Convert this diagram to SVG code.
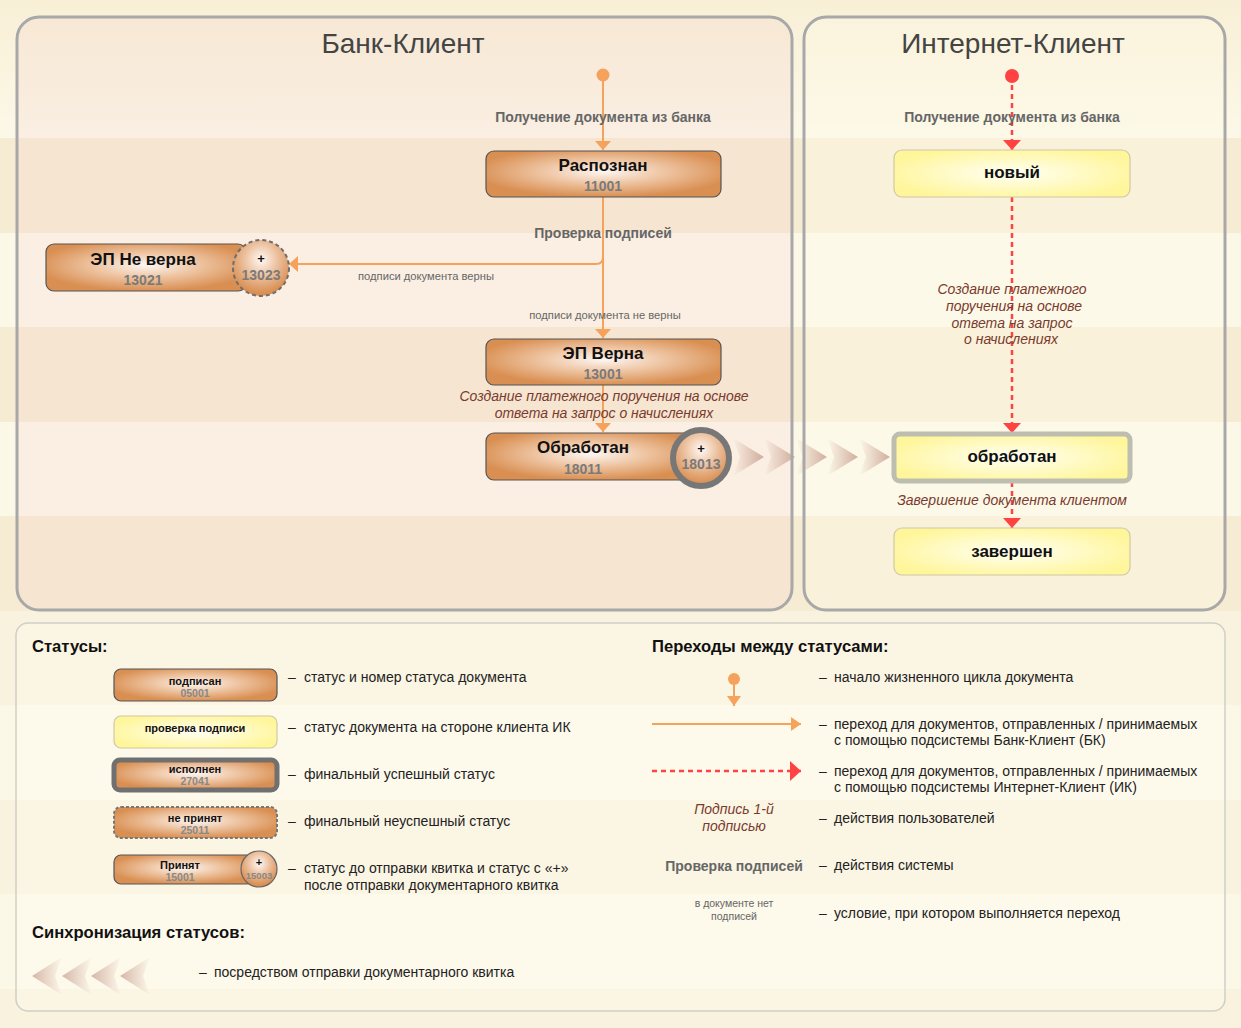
<svg xmlns="http://www.w3.org/2000/svg" width="1241" height="1028" viewBox="0 0 1241 1028">
<defs>
<style>
text{font-family:"Liberation Sans",Arial,sans-serif}
.big{font-size:28px;fill:#444;text-anchor:middle}
.ttl{font-size:17px;font-weight:bold;fill:#111;text-anchor:middle}
.num{font-size:14px;font-weight:bold;fill:#7a7a7a;text-anchor:middle}
.lbl{font-size:14px;font-weight:bold;fill:#666;text-anchor:middle}
.cond{font-size:11.2px;fill:#666;text-anchor:middle}
.act{font-size:14px;font-style:italic;fill:#7a3b2e;text-anchor:middle}
.desc{font-size:14px;fill:#222}
.hdr{font-size:16.6px;font-weight:bold;fill:#111}
.lt{font-size:11px;font-weight:bold;fill:#111;text-anchor:middle}
.ln{font-size:10.5px;font-weight:bold;fill:#888;text-anchor:middle}
.on{fill:url(#gO);stroke:#555;stroke-width:1.2}
.yn{fill:url(#gY);stroke:#cfc8a8;stroke-width:1.2}
.oc{fill:url(#gC)}
.bk{stroke:#f5a25c;stroke-width:2;fill:none}
.ik{stroke:#ff4343;stroke-width:2.5;fill:none;stroke-dasharray:5 4}
</style>
<radialGradient id="gO" cx="0.5" cy="0.45" r="0.55">
<stop offset="0" stop-color="#fdf6f2"/>
<stop offset="0.45" stop-color="#efc7a6"/>
<stop offset="1" stop-color="#d98f52"/>
</radialGradient>
<radialGradient id="gC" cx="0.5" cy="0.35" r="0.6">
<stop offset="0" stop-color="#fff8f4"/>
<stop offset="0.5" stop-color="#ecc09e"/>
<stop offset="1" stop-color="#d98f52"/>
</radialGradient>
<radialGradient id="gY" cx="0.5" cy="0.5" r="0.55">
<stop offset="0" stop-color="#fffff4"/>
<stop offset="1" stop-color="#fff69c"/>
</radialGradient>
<linearGradient id="gS" x1="0" y1="0" x2="1" y2="0">
<stop offset="0" stop-color="#c9a091" stop-opacity="0"/>
<stop offset="1" stop-color="#c9a091" stop-opacity="0.85"/>
</linearGradient>
<linearGradient id="gSL" x1="0" y1="0" x2="1" y2="0">
<stop offset="0" stop-color="#c9a091" stop-opacity="0.75"/>
<stop offset="1" stop-color="#c9a091" stop-opacity="0"/>
</linearGradient>
<linearGradient id="gTop" x1="0" y1="0" x2="0" y2="1">
<stop offset="0" stop-color="#f8efd6"/>
<stop offset="1" stop-color="#fcf8e8"/>
</linearGradient>
<marker id="aO" viewBox="0 0 9 16" markerWidth="9" markerHeight="16" refX="9" refY="8" orient="auto" markerUnits="userSpaceOnUse">
<path d="M0,0 L9,8 L0,16 z" fill="#f5a25c"/>
</marker>
<marker id="aR" viewBox="0 0 10 18" markerWidth="10" markerHeight="18" refX="10" refY="9" orient="auto" markerUnits="userSpaceOnUse">
<path d="M0,0 L10,9 L0,18 z" fill="#ff4343"/>
</marker>
<marker id="aOL" viewBox="0 0 10 14" markerWidth="10" markerHeight="14" refX="10" refY="7" orient="auto" markerUnits="userSpaceOnUse">
<path d="M0,0 L10,7 L0,14 z" fill="#f5a25c"/>
</marker>
<marker id="aRL" viewBox="0 0 11 20" markerWidth="11" markerHeight="20" refX="11" refY="10" orient="auto" markerUnits="userSpaceOnUse">
<path d="M0,0 L11,10 L0,20 z" fill="#ff4343"/>
</marker>
<path id="chev" d="M0,-19 L31,0 L0,19 L7,0 z"/>
<path id="chevL" d="M0,0 L30,-19 L23,0 L30,19 z"/>
</defs>

<!-- background bands -->
<rect x="0" y="0" width="1241" height="1028" fill="#fcf8e8"/>
<rect x="0" y="0" width="1241" height="138" fill="url(#gTop)"/>
<g fill="#f6ecd3">
<rect x="0" y="138" width="1241" height="95"/>
<rect x="0" y="327" width="1241" height="95"/>
<rect x="0" y="516" width="1241" height="95"/>
<rect x="0" y="611" width="1241" height="94" opacity="0.5"/>
<rect x="0" y="800" width="1241" height="94" opacity="0.5"/>
<rect x="0" y="989" width="1241" height="39" opacity="0.5"/>
</g>

<!-- panels -->
<g id="panel-bank">
<rect x="17" y="17" width="775" height="593" rx="22" fill="#f0c3c8" fill-opacity="0.16"/>
<text class="big" x="403" y="53">Банк-Клиент</text>
</g>
<g id="panel-ik">
<rect x="804" y="17" width="421" height="593" rx="22" fill="#fffbe8" fill-opacity="0.3"/>
<text class="big" x="1013" y="53">Интернет-Клиент</text>
</g>

<!-- sync chevrons -->
<g id="sync" fill="url(#gS)">
<use href="#chev" x="733" y="457"/>
<use href="#chev" x="764" y="457"/>
<use href="#chev" x="796" y="457"/>
<use href="#chev" x="827" y="457"/>
<use href="#chev" x="859" y="457"/>
</g>

<g fill="none" stroke="#a8a8a8" stroke-width="3">
<rect x="17" y="17" width="775" height="593" rx="22"/>
<rect x="804" y="17" width="421" height="593" rx="22"/>
</g>

<!-- connectors -->
<g id="connectors">
<circle cx="603" cy="75" r="6.5" fill="#f5a25c"/>
<path class="bk" d="M603,75 V150" marker-end="url(#aO)"/>
<path class="bk" d="M603,197 V338" marker-end="url(#aO)"/>
<path class="bk" d="M603,240 V257 Q603,264 596,264 H289" marker-end="url(#aO)"/>
<path class="bk" d="M603,385 V432" marker-end="url(#aO)"/>
<circle cx="1012" cy="76" r="7" fill="#ff4343"/>
<path class="ik" d="M1012,76 V150" marker-end="url(#aR)"/>
<path class="ik" d="M1012,197 V433" marker-end="url(#aR)"/>
<path class="ik" d="M1012,482 V528" marker-end="url(#aR)"/>
<text class="lbl" x="603" y="122">Получение документа из банка</text>
<text class="lbl" x="603" y="238">Проверка подписей</text>
<text class="cond" x="426" y="280">подписи документа верны</text>
<text class="cond" x="605" y="319">подписи документа не верны</text>
<text class="act" x="604" y="401">Создание платежного поручения на основе</text>
<text class="act" x="604" y="418">ответа на запрос о начислениях</text>
<text class="lbl" x="1012" y="122">Получение документа из банка</text>
<text class="act" x="1012" y="294">Создание платежного</text>
<text class="act" x="1014" y="311">поручения на основе</text>
<text class="act" x="1012" y="328">ответа на запрос</text>
<text class="act" x="1011" y="344">о начислениях</text>
<text class="act" x="1012" y="505">Завершение документа клиентом</text>
</g>

<!-- bank nodes -->
<g id="n-raspoznan">
<rect class="on" x="486" y="151" width="235" height="46" rx="8"/>
<text class="ttl" x="603" y="171">Распознан</text>
<text class="num" x="603" y="191">11001</text>
</g>
<g id="n-ep-ne-verna">
<rect class="on" x="46" y="244" width="200" height="47" rx="8"/>
<text class="ttl" x="143" y="265">ЭП Не верна</text>
<text class="num" x="143" y="285">13021</text>
<circle class="oc" cx="261" cy="268" r="28" style="stroke:#6e6e6e;stroke-width:2;stroke-dasharray:4 3"/>
<text class="ttl" x="261" y="263" style="font-size:13px">+</text>
<text class="num" x="261" y="280">13023</text>
</g>
<g id="n-ep-verna">
<rect class="on" x="486" y="339" width="235" height="46" rx="8"/>
<text class="ttl" x="603" y="359">ЭП Верна</text>
<text class="num" x="603" y="379">13001</text>
</g>
<g id="n-obrabotan">
<rect class="on" x="486" y="433" width="210" height="47" rx="8"/>
<text class="ttl" x="583" y="453">Обработан</text>
<text class="num" x="583" y="474">18011</text>
<circle class="oc" cx="701" cy="458" r="28" style="stroke:#777;stroke-width:6"/>
<text class="ttl" x="701" y="453" style="font-size:13px">+</text>
<text class="num" x="701" y="469">18013</text>
</g>

<!-- IK nodes -->
<g id="n-novyi">
<rect class="yn" x="894" y="150" width="236" height="47" rx="8"/>
<text class="ttl" x="1012" y="178">новый</text>
</g>
<g id="n-obrabotan-ik">
<rect class="yn" x="894" y="434" width="236" height="47" rx="6" style="stroke:#bdbdb0;stroke-width:5"/>
<text class="ttl" x="1012" y="462">обработан</text>
</g>
<g id="n-zavershen">
<rect class="yn" x="894" y="528" width="236" height="47" rx="8"/>
<text class="ttl" x="1012" y="557">завершен</text>
</g>

<!-- legend -->
<g id="legend">
<rect x="16" y="623" width="1209" height="388" rx="12" fill="#fffdf0" fill-opacity="0.35" stroke="#cfcfc8" stroke-width="1.5"/>
<text class="hdr" x="32" y="652">Статусы:</text>

<g id="lg-podpisan">
<rect class="on" x="114" y="669" width="163" height="32" rx="7"/>
<text class="lt" x="195" y="685">подписан</text>
<text class="ln" x="195" y="697">05001</text>
</g>
<text class="desc" x="288" y="682">–</text><text class="desc" x="304" y="682">статус и номер статуса документа</text>

<g id="lg-proverka">
<rect class="yn" x="114" y="716" width="163" height="32" rx="7"/>
<text class="lt" x="195" y="732">проверка подписи</text>
</g>
<text class="desc" x="288" y="732">–</text><text class="desc" x="304" y="732">статус документа на стороне клиента ИК</text>

<g id="lg-ispolnen">
<rect class="on" x="114" y="760" width="163" height="30" rx="6" style="stroke:#707070;stroke-width:5"/>
<text class="lt" x="195" y="773">исполнен</text>
<text class="ln" x="195" y="785">27041</text>
</g>
<text class="desc" x="288" y="779">–</text><text class="desc" x="304" y="779">финальный успешный статус</text>

<g id="lg-neprinyat">
<rect class="on" x="114" y="807" width="163" height="31" rx="7" style="stroke:#777;stroke-width:2;stroke-dasharray:3 2"/>
<text class="lt" x="195" y="822">не принят</text>
<text class="ln" x="195" y="834">25011</text>
</g>
<text class="desc" x="288" y="826">–</text><text class="desc" x="304" y="826">финальный неуспешный статус</text>

<g id="lg-prinyat">
<rect class="on" x="114" y="855" width="140" height="29" rx="7"/>
<text class="lt" x="180" y="869">Принят</text>
<text class="ln" x="180" y="881">15001</text>
<circle class="oc" cx="259" cy="869" r="18" style="stroke:#666;stroke-width:1.2"/>
<text class="lt" x="259" y="866">+</text>
<text class="ln" x="259" y="879" style="font-size:9.5px">15003</text>
</g>
<text class="desc" x="288" y="873">–</text><text class="desc" x="304" y="873">статус до отправки квитка и статус с «+»</text>
<text class="desc" x="304" y="890">после отправки документарного квитка</text>

<text class="hdr" x="32" y="938">Синхронизация статусов:</text>
<g id="lg-sync" fill="url(#gSL)">
<use href="#chevL" x="32" y="976"/>
<use href="#chevL" x="62" y="976"/>
<use href="#chevL" x="91" y="976"/>
<use href="#chevL" x="120" y="976"/>
</g>
<text class="desc" x="199" y="977">–</text><text class="desc" x="214" y="977">посредством отправки документарного квитка</text>

<text class="hdr" x="652" y="652">Переходы между статусами:</text>
<g id="lg-start">
<circle cx="734" cy="679" r="6" fill="#f5a25c"/>
<path class="bk" d="M734,679 V706" marker-end="url(#aOL)"/>
</g>
<text class="desc" x="819" y="682">–</text><text class="desc" x="834" y="682">начало жизненного цикла документа</text>

<path class="bk" d="M652,724 H801" marker-end="url(#aOL)"/>
<text class="desc" x="819" y="729">–</text><text class="desc" x="834" y="729">переход для документов, отправленных / принимаемых</text>
<text class="desc" x="834" y="745">с помощью подсистемы Банк-Клиент (БК)</text>

<path class="ik" d="M652,771 H801" marker-end="url(#aRL)"/>
<text class="desc" x="819" y="776">–</text><text class="desc" x="834" y="776">переход для документов, отправленных / принимаемых</text>
<text class="desc" x="834" y="792">с помощью подсистемы Интернет-Клиент (ИК)</text>

<text class="act" x="734" y="814">Подпись 1-й</text>
<text class="act" x="734" y="831">подписью</text>
<text class="desc" x="819" y="823">–</text><text class="desc" x="834" y="823">действия пользователей</text>

<text class="lbl" x="734" y="871">Проверка подписей</text>
<text class="desc" x="819" y="870">–</text><text class="desc" x="834" y="870">действия системы</text>

<text class="cond" x="734" y="907" style="font-size:10.5px">в документе нет</text>
<text class="cond" x="734" y="920" style="font-size:10.5px">подписей</text>
<text class="desc" x="819" y="918">–</text><text class="desc" x="834" y="918">условие, при котором выполняется переход</text>
</g>
</svg>
